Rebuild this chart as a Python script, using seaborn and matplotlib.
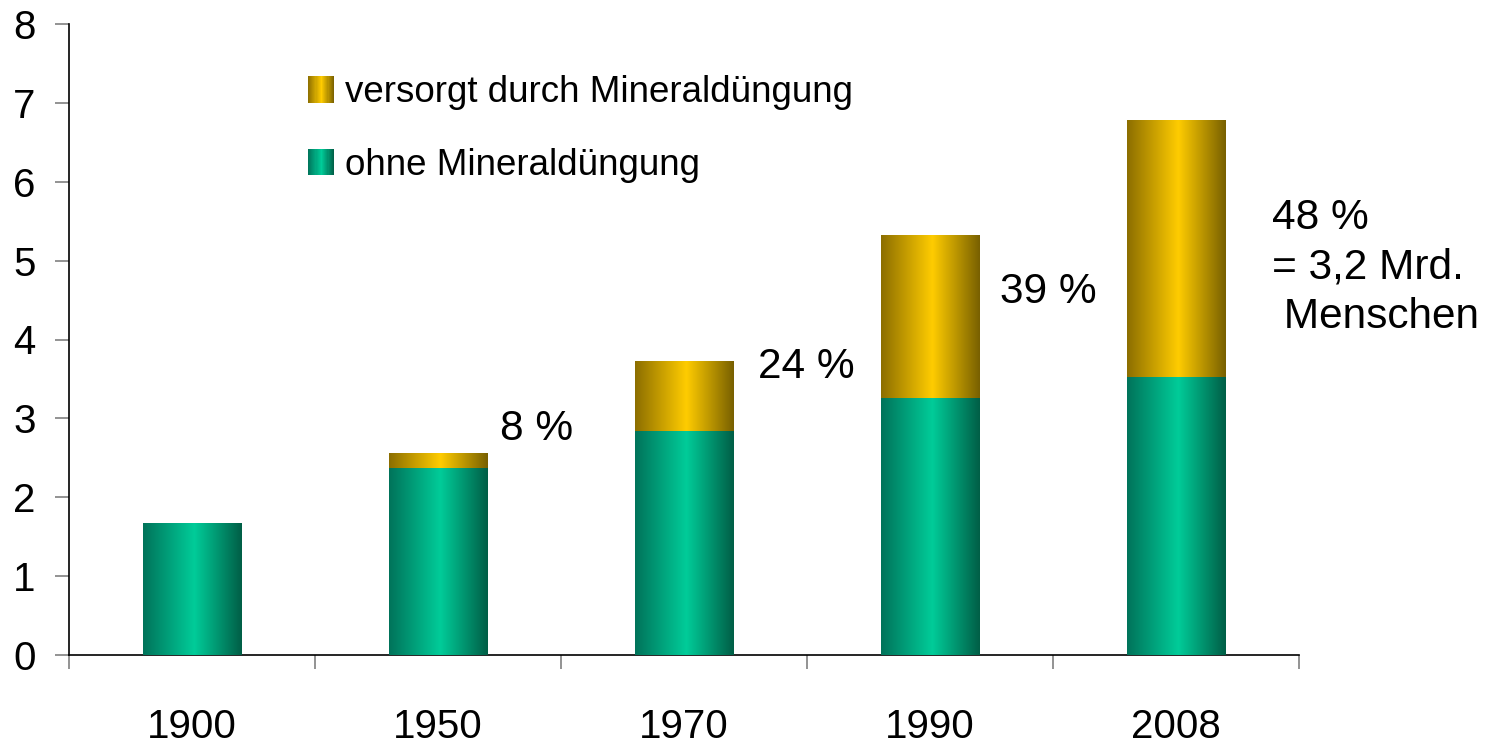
import numpy as np
import pandas as pd
import matplotlib
matplotlib.use("Agg")
import matplotlib.pyplot as plt
import seaborn as sns
from matplotlib.colors import LinearSegmentedColormap
from matplotlib.patches import Rectangle
from matplotlib.legend_handler import HandlerBase

years = ["1900", "1950", "1970", "1990", "2008"]
ohne = [1.67, 2.36, 2.83, 3.25, 3.52]
mineral = [0.0, 0.19, 0.89, 2.07, 3.26]
labels = ["", "8 %", "24 %", "39 %", "48 %\n= 3,2 Mrd.\n Menschen"]
series_names = ["versorgt durch Mineraldüngung", "ohne Mineraldüngung"]

totals = [a + b for a, b in zip(ohne, mineral)]
df = pd.DataFrame({"year": years, "ohne": ohne, "total": totals})

sns.set_style("white")
plt.rcParams["font.family"] = ["Liberation Sans", "DejaVu Sans"]
plt.rcParams["text.color"] = "black"

fig = plt.figure(figsize=(14.88, 7.43), dpi=100)
ax = fig.add_axes([69 / 1488, 1 - 655 / 743, (1299 - 69) / 1488, (655 - 24) / 743])

green_cmap = LinearSegmentedColormap.from_list(
    "g", [(0.0, "#00735a"), (0.52, "#00cc99"), (1.0, "#005e46")])
gold_cmap = LinearSegmentedColormap.from_list(
    "y", [(0.0, "#8c6e00"), (0.52, "#ffcc00"), (1.0, "#786000")])

sns.barplot(data=df, x="year", y="total", color="#ffcc00", width=0.4, ax=ax, errorbar=None)
n_gold = len(ax.patches)
sns.barplot(data=df, x="year", y="ohne", color="#00cc99", width=0.4, ax=ax, errorbar=None)

grad = np.linspace(0, 1, 256).reshape(1, -1)
for i, p in enumerate(ax.patches):
    x0, y0 = p.get_x(), p.get_y()
    w, h = p.get_width(), p.get_height()
    if h <= 0:
        continue
    cmap = gold_cmap if i < n_gold else green_cmap
    ax.imshow(grad, cmap=cmap, aspect="auto", extent=[x0, x0 + w, y0, y0 + h],
              zorder=2 + (i >= n_gold), interpolation="bicubic")
    p.set_visible(False)

ax.set_xlim(-0.5, 4.5)
ax.set_ylim(0, 8)
ax.set_yticks(range(0, 9))
ax.set_xlabel("")
ax.set_ylabel("")

for s in ["top", "right"]:
    ax.spines[s].set_visible(False)
for s in ["left", "bottom"]:
    ax.spines[s].set_color("black")
    ax.spines[s].set_linewidth(1.2)

ax.tick_params(axis="y", which="major", direction="out", length=10, width=1.2,
               color="#808080", labelcolor="black", labelsize=29, pad=14, left=True)
ax.tick_params(axis="x", which="major", length=0, labelsize=29, pad=38, labelcolor="black")
ax.set_xticks(np.arange(-0.5, 5.0, 1.0), minor=True)
ax.tick_params(axis="x", which="minor", direction="out", length=10, width=1.2,
               color="#808080", bottom=True)

# annotations
ann_x = [0, 1.25, 2.30, 3.285, 4.39]
ann_y = [0, 2.87, 3.65, 4.60, 5.79]
for i, t in enumerate(labels):
    if not t:
        continue
    va = "top" if "\n" in t else "center"
    ax.text(ann_x[i], ann_y[i], t, fontsize=30.5, ha="left", va=va, linespacing=1.3,
            color="black")


class GradientHandler(HandlerBase):
    def __init__(self, cmap):
        super().__init__()
        self.cmap = cmap

    def create_artists(self, legend, orig_handle, xdescent, ydescent, width, height,
                       fontsize, trans):
        n = 24
        arts = []
        size = height * 1.02
        x_start = width - size
        for k in range(n):
            c = self.cmap((k + 0.5) / n)
            r = Rectangle((x_start - xdescent + k * size / n, -ydescent + (height - size) / 2),
                          size / n * 1.05, size, facecolor=c, edgecolor="none",
                          transform=trans)
            arts.append(r)
        return arts


h_gold = Rectangle((0, 0), 1, 1)
h_green = Rectangle((0, 0), 1, 1)
leg = ax.legend([h_gold, h_green], series_names,
                handler_map={h_gold: GradientHandler(gold_cmap), h_green: GradientHandler(green_cmap)},
                loc="upper left", bbox_to_anchor=(0.1667, 0.971), frameon=False,
                fontsize=26.5, handlelength=0.73, handletextpad=0.3, labelspacing=1.02)
for t in leg.get_texts():
    t.set_color("black")

fig.savefig("out.png", dpi=100)
